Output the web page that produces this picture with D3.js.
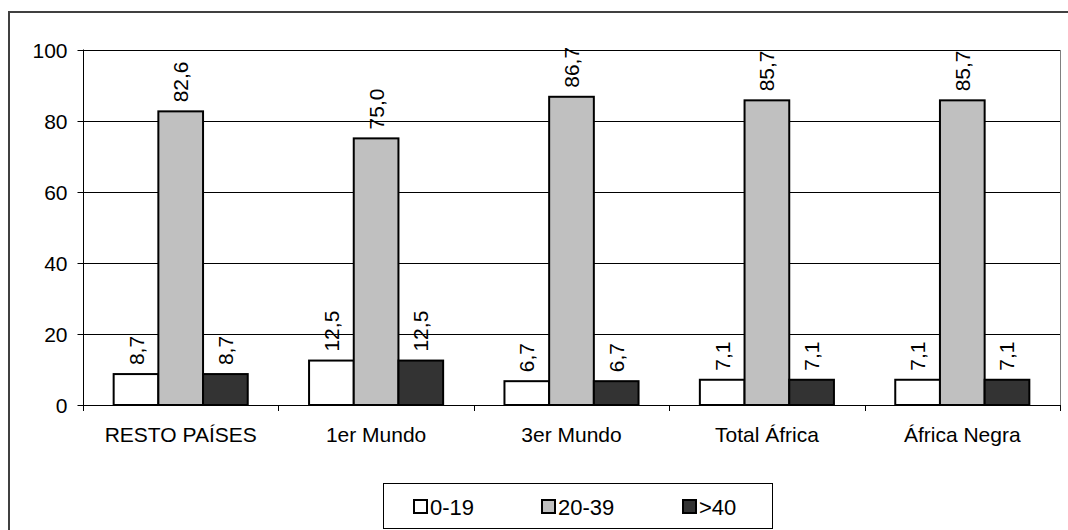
<!DOCTYPE html>
<html><head><meta charset="utf-8">
<script src="https://cdn.jsdelivr.net/npm/d3@7"></script>
<style>
html,body{margin:0;padding:0;background:#fff;}
svg{display:block;font-family:"Liberation Sans",Arial,sans-serif;}
</style></head>
<body>
<svg id="chart" width="1068" height="530"></svg>
<script>
const categories = ["RESTO PAÍSES", "1er Mundo", "3er Mundo", "Total África", "África Negra"];
const seriesNames = ["0-19", "20-39", ">40"];
const s0_19 = [8.7, 12.5, 6.7, 7.1, 7.1];
const s20_39 = [82.6, 75.0, 86.7, 85.7, 85.7];
const s40 = [8.7, 12.5, 6.7, 7.1, 7.1];
const yTicks = [0, 20, 40, 60, 80, 100];
const colors = ["#ffffff", "#c0c0c0", "#333333"];

const seriesValues = [s0_19, s20_39, s40];
const svg = d3.select("#chart");
const FONT = "'Liberation Sans', Arial, sans-serif";

const plot = {left: 83, right: 1060, top: 49.5, bottom: 405};

// outer frame
svg.append("rect").attr("x", 9).attr("y", 12).attr("width", 1070).attr("height", 540)
  .attr("fill", "none").attr("stroke", "#404040").attr("stroke-width", 2);

const x = d3.scaleBand().domain(categories).range([plot.left, plot.right]).paddingInner(0).paddingOuter(0);
const xs = d3.scaleBand().domain(seriesNames).range([0, x.bandwidth()]).paddingInner(0).paddingOuter(0.686);
const y = d3.scaleLinear().domain([0, 100]).range([plot.bottom, plot.top]);

// gridlines
svg.append("g").selectAll("line").data(yTicks.filter(d => d > 0)).join("line")
  .attr("x1", plot.left).attr("x2", plot.right)
  .attr("y1", d => Math.round(y(d)) + 0.5).attr("y2", d => Math.round(y(d)) + 0.5)
  .attr("stroke", "#000").attr("stroke-width", 1);

// plot area right border
svg.append("line").attr("x1", plot.right + 0.5).attr("x2", plot.right + 0.5)
  .attr("y1", Math.round(plot.top)).attr("y2", plot.bottom)
  .attr("stroke", "#808080").attr("stroke-width", 1);

// y axis
const yAxis = d3.axisLeft(y).tickValues(yTicks).tickSize(6).tickPadding(10).tickFormat(d3.format("d"));
const gy = svg.append("g").attr("transform", `translate(${plot.left + 0.5},0)`).call(yAxis);
gy.select(".domain").attr("stroke", "#000").attr("d", `M0,${plot.top}V${plot.bottom + 6}`);
gy.selectAll(".tick").attr("transform", d => `translate(0,${Math.round(y(d)) + 0.5})`);
gy.selectAll(".tick line").attr("stroke", "#000");
gy.selectAll(".tick text").attr("font-size", 21).attr("fill", "#000")
  .attr("font-family", FONT).attr("dy", "0.35em");

// bars
const groups = svg.append("g").selectAll("g").data(categories).join("g")
  .attr("transform", c => `translate(${x(c)},0)`);
groups.each(function(c, i) {
  const g = d3.select(this);
  seriesNames.forEach((s, j) => {
    const v = seriesValues[j][i];
    g.append("rect")
      .attr("x", xs(s)).attr("width", xs.bandwidth())
      .attr("y", y(v)).attr("height", y(0) - y(v))
      .attr("fill", colors[j]).attr("stroke", "#000").attr("stroke-width", 2);
    const cx = xs(s) + xs.bandwidth() / 2;
    g.append("text")
      .attr("transform", `translate(${cx},${y(v) - 9}) rotate(-90)`)
      .attr("text-anchor", "start").attr("dominant-baseline", "central")
      .attr("font-size", 21).attr("fill", "#000")
      .text(d3.format(".1f")(v).replace(".", ","));
  });
});

// x axis baseline
svg.append("line").attr("x1", plot.left).attr("x2", plot.right)
  .attr("y1", plot.bottom + 0.5).attr("y2", plot.bottom + 0.5)
  .attr("stroke", "#000").attr("stroke-width", 1);
// x ticks at category boundaries
const bounds = categories.map(c => x(c)).concat([plot.right]);
svg.append("g").selectAll("line").data(bounds).join("line")
  .attr("x1", d => Math.round(d) + 0.5).attr("x2", d => Math.round(d) + 0.5)
  .attr("y1", plot.bottom).attr("y2", plot.bottom + 6)
  .attr("stroke", "#000");
// category labels
svg.append("g").selectAll("text").data(categories).join("text")
  .attr("x", c => x(c) + x.bandwidth() / 2).attr("y", 441.5)
  .attr("text-anchor", "middle").attr("font-size", 21).attr("fill", "#000")
  .text(c => c);

// legend
const lg = svg.append("g");
lg.append("rect").attr("x", 383.5).attr("y", 483.5).attr("width", 389).attr("height", 45)
  .attr("fill", "#fff").attr("stroke", "#000").attr("stroke-width", 1);
const legendX = [414, 542, 683];
seriesNames.forEach((s, j) => {
  lg.append("rect").attr("x", legendX[j]).attr("y", 500).attr("width", 13).attr("height", 13)
    .attr("fill", colors[j]).attr("stroke", "#000").attr("stroke-width", 2);
  lg.append("text").attr("x", legendX[j] + 16).attr("y", 514.5)
    .attr("font-size", 22).attr("fill", "#000").text(s);
});
</script>
</body></html>
